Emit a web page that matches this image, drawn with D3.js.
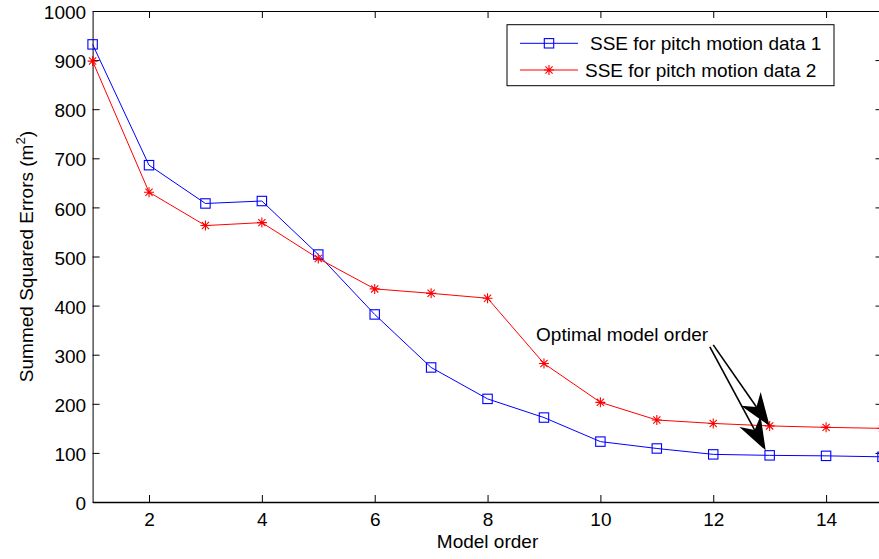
<!DOCTYPE html>
<html>
<head>
<meta charset="utf-8">
<script src="https://cdn.jsdelivr.net/npm/d3@7"></script>
<style>
  body { margin: 0; background: #fff; }
  svg { display: block; font-family: "Liberation Sans", Arial, sans-serif; }
</style>
</head>
<body>
<div id="chart"></div>
<script>
const orders = [1, 2, 3, 4, 5, 6, 7, 8, 9, 10, 11, 12, 13, 14, 15];
const sse1 = [932, 686, 608, 613, 504, 382, 274, 210, 172, 123, 109, 97, 95, 94, 92];
const sse2 = [898, 631, 563, 569, 496, 434, 425, 415, 282, 203, 167, 160, 155, 152, 150];
const xTicks = [2, 4, 6, 8, 10, 12, 14];
const yTicks = [0, 100, 200, 300, 400, 500, 600, 700, 800, 900, 1000];
const seriesNames = ["SSE for pitch motion data 1", "SSE for pitch motion data 2"];
const optimalOrder = 13;

const width = 879;
const height = 559;
const margin = ({top: 11, right: -3.5, bottom: 57, left: 92.6});
const fs = 19;

const x = d3.scaleLinear()
      .domain([1, 15])
      .range([margin.left, width - margin.right]);

const y = d3.scaleLinear()
      .domain([0, 1000])
      .range([height - margin.bottom, margin.top]);

const svg = d3.select("#chart").append("svg")
      .attr("width", width)
      .attr("height", height)
      .attr("viewBox", [0, 0, width, height]);

const styleAxis = g => g
      .attr("font-family", null)
      .attr("font-size", fs)
      .call(g => g.selectAll("path, line").attr("stroke", "#000"))
      .call(g => g.selectAll("text").attr("fill", "#000"));

// bottom / left with labels
svg.append("g")
    .attr("transform", `translate(0,${y(0)})`)
    .call(d3.axisBottom(x).tickValues(xTicks).tickFormat(d3.format("d"))
          .tickSizeInner(-7).tickSizeOuter(0).tickPadding(11))
    .call(styleAxis)
    .call(g => g.select(".domain").attr("stroke-width", 1.4));

svg.append("g")
    .attr("transform", `translate(${x(1)},0)`)
    .call(d3.axisLeft(y).tickValues(yTicks).tickFormat(d3.format("d"))
          .tickSizeInner(-7).tickSizeOuter(0).tickPadding(6.5))
    .call(styleAxis)
    .call(g => g.selectAll("text").attr("dy", "0.4em"));

// top / right, ticks only
svg.append("g")
    .attr("transform", `translate(0,${y(1000)})`)
    .call(d3.axisTop(x).tickValues(xTicks).tickSizeInner(-7).tickSizeOuter(0).tickFormat(""))
    .call(styleAxis);

svg.append("g")
    .attr("transform", `translate(${x(15)},0)`)
    .call(d3.axisRight(y).tickValues(yTicks).tickSizeInner(-7).tickSizeOuter(0).tickFormat(""))
    .call(styleAxis);

// axis titles
svg.append("text")
    .attr("x", (x(1) + x(15)) / 2)
    .attr("y", 548)
    .attr("text-anchor", "middle")
    .attr("font-size", fs)
    .text("Model order");

const yl = svg.append("text")
    .attr("transform", `translate(33,${(y(0) + y(1000)) / 2}) rotate(-90)`)
    .attr("text-anchor", "middle")
    .attr("font-size", fs);
yl.append("tspan").text("Summed Squared Errors (m");
yl.append("tspan").attr("font-size", fs * 0.7).attr("dy", -8).text("2");
yl.append("tspan").attr("dy", 8).text(")");

// series
const line = d3.line()
      .x((d, i) => x(orders[i]))
      .y(d => y(d));

const drawSquare = (g, cx, cy, color) => g.append("rect")
      .attr("x", cx - 4.7).attr("y", cy - 4.7)
      .attr("width", 9.4).attr("height", 9.4)
      .attr("fill", "none").attr("stroke", color).attr("stroke-width", 1.1);

const drawStar = (g, cx, cy, color) => {
    const r = 5, d = r * 0.72;
    g.append("path")
      .attr("d", `M${cx - r},${cy}H${cx + r}M${cx},${cy - r}V${cy + r}` +
                 `M${cx - d},${cy - d}L${cx + d},${cy + d}M${cx - d},${cy + d}L${cx + d},${cy - d}`)
      .attr("fill", "none").attr("stroke", color).attr("stroke-width", 1.1);
};

svg.append("path")
    .datum(sse1)
    .attr("fill", "none")
    .attr("stroke", "#0000ff")
    .attr("stroke-width", 1)
    .attr("d", line);

svg.append("path")
    .datum(sse2)
    .attr("fill", "none")
    .attr("stroke", "#ff0000")
    .attr("stroke-width", 1)
    .attr("d", line);

const m1 = svg.append("g");
sse1.forEach((v, i) => drawSquare(m1, x(orders[i]), y(v), "#0000ff"));
const m2 = svg.append("g");
sse2.forEach((v, i) => drawStar(m2, x(orders[i]), y(v), "#ff0000"));

// annotation
svg.append("text")
    .attr("x", x(8.86))
    .attr("y", y(328))
    .attr("font-size", fs)
    .text("Optimal model order");

const arrow = (x0, y0, x1, y1) => {
    const L = 33, W = 12, N = 0.7;
    const a = Math.atan2(y1 - y0, x1 - x0);
    const ux = Math.cos(a), uy = Math.sin(a);
    const px = -uy, py = ux;
    const bx = x1 - ux * L, by = y1 - uy * L;
    const nx = x1 - ux * L * N, ny = y1 - uy * L * N;
    svg.append("line")
        .attr("x1", x0).attr("y1", y0)
        .attr("x2", nx).attr("y2", ny)
        .attr("stroke", "#000").attr("stroke-width", 1.6);
    svg.append("path")
        .attr("d", `M${x1},${y1}L${bx + px * W},${by + py * W}L${nx},${ny}L${bx - px * W},${by - py * W}Z`)
        .attr("fill", "#000");
};

arrow(x(12.0), y(320), x(optimalOrder), y(sse2[optimalOrder - 1]));
arrow(x(11.94), y(316), x(optimalOrder) - 4, y(sse1[optimalOrder - 1]) - 5);

// legend
const lg = svg.append("g");
lg.append("rect")
    .attr("x", 507).attr("y", 24.7)
    .attr("width", 327).attr("height", 61)
    .attr("fill", "#fff").attr("stroke", "#000").attr("stroke-width", 1);

const rows = [
    {name: seriesNames[0], color: "#0000ff", mark: drawSquare, cy: 43.3, tx: 590},
    {name: seriesNames[1], color: "#ff0000", mark: drawStar, cy: 70, tx: 585}
];
rows.forEach(r => {
    lg.append("line")
        .attr("x1", 520).attr("x2", 578)
        .attr("y1", r.cy).attr("y2", r.cy)
        .attr("stroke", r.color).attr("stroke-width", 1);
    r.mark(lg, 549, r.cy, r.color);
    lg.append("text")
        .attr("x", r.tx)
        .attr("y", r.cy + 7)
        .attr("font-size", fs)
        .text(r.name);
});
</script>
</body>
</html>
